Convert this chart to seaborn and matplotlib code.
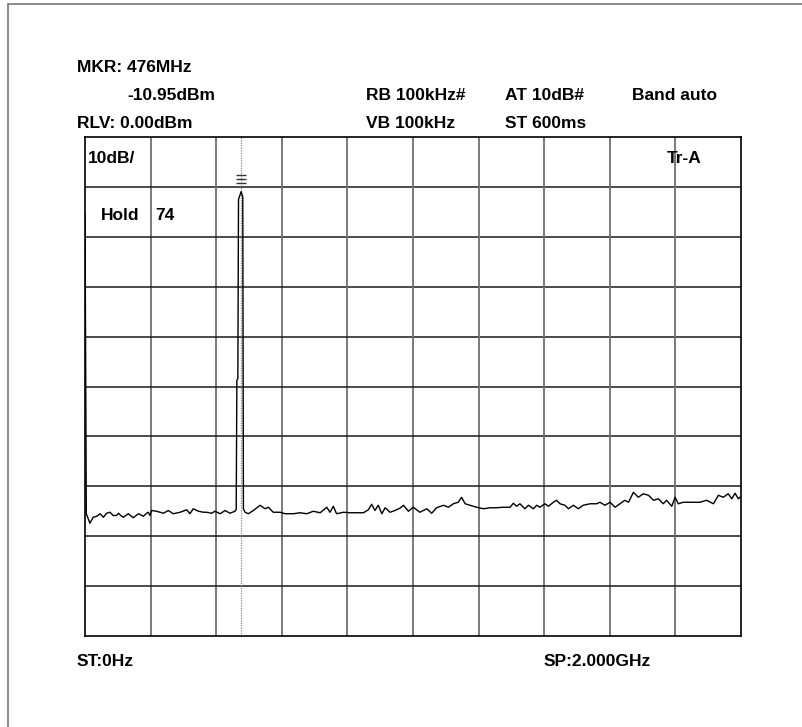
import matplotlib
matplotlib.use("Agg")
import matplotlib.pyplot as plt
import seaborn as sns
import pandas as pd
from matplotlib.lines import Line2D

# Sweep trace: frequency (MHz) and level (dBm)
freq_mhz = [0, 4, 15, 25, 36, 46, 56, 66, 76, 86, 96, 102, 110, 117, 132, 147, 163, 178, 188, 193,
            198, 203, 218, 239, 254, 269, 290, 310, 320, 330, 346, 361, 371, 386, 396, 412, 427, 442,
            457, 461, 463, 466, 468, 476, 481, 483, 488, 498, 513, 534, 549, 559, 574, 595, 610, 635,
            656, 676, 696, 717, 737, 747, 757, 767, 788, 808, 828, 849, 864, 874, 884, 894, 905, 915,
            930, 945, 960, 971, 986, 1001, 1021, 1042, 1057, 1072, 1093, 1108, 1123, 1138, 1148, 1159,
            1174, 1194, 1215, 1235, 1255, 1275, 1296, 1306, 1316, 1326, 1341, 1352, 1367, 1377, 1387,
            1402, 1413, 1428, 1438, 1448, 1463, 1474, 1489, 1504, 1519, 1540, 1560, 1570, 1585, 1601,
            1616, 1631, 1646, 1657, 1672, 1687, 1702, 1718, 1733, 1748, 1763, 1773, 1789, 1799, 1809,
            1824, 1840, 1855, 1875, 1895, 1916, 1931, 1946, 1961, 1972, 1982, 1992, 2000]
level_dbm = [-15.5, -75.5, -77.4, -76.2, -76.0, -75.5, -76.2, -75.4, -75.2, -75.85, -75.85, -75.4,
             -75.9, -76.2, -75.5, -76.3, -75.5, -76.0, -75.4, -75.2, -75.85, -74.85, -75.0, -75.4,
             -74.85, -75.5, -75.2, -74.7, -75.5, -74.5, -75.0, -75.2, -75.2, -75.4, -75.0, -75.5,
             -74.85, -75.4, -75.0, -74.6, -48.8, -48.4, -12.5, -10.95, -12.0, -74.5, -75.2, -75.5,
             -74.85, -73.8, -74.5, -74.2, -75.2, -75.2, -75.5, -75.5, -75.3, -75.5, -75.0, -75.3,
             -74.2, -75.2, -74.0, -75.5, -75.2, -75.3, -75.3, -75.3, -74.7, -73.6, -74.85, -73.8,
             -75.5, -74.3, -75.2, -74.85, -74.4, -73.8, -75.0, -74.2, -75.2, -74.5, -75.4, -74.3,
             -73.8, -74.2, -73.5, -73.2, -72.2, -73.5, -73.8, -74.2, -74.5, -74.3, -74.3, -74.2,
             -74.2, -73.4, -74.0, -73.5, -74.5, -73.8, -74.5, -73.8, -74.2, -73.5, -74.0, -73.2,
             -72.8, -73.5, -73.8, -74.5, -73.8, -74.5, -73.8, -73.5, -73.5, -73.2, -73.8, -73.2,
             -74.2, -73.5, -72.8, -73.2, -71.2, -72.2, -71.5, -71.8, -72.8, -72.5, -73.5, -72.8,
             -74.0, -72.2, -73.5, -73.2, -73.2, -73.2, -73.2, -72.8, -73.5, -71.8, -72.2, -71.5,
             -72.5, -71.4, -72.5, -72.0]

# Marker
marker_freq_mhz = 476
marker_level_dbm = -10.95
marker_glyph_dbm = [-7.6, -8.4, -9.2]

# Display settings
span_mhz = [0, 2000]
ref_level_dbm = 0
db_per_div = 10
n_div = 10

header_left = ["MKR: 476MHz", "-10.95dBm", "RLV: 0.00dBm"]
header_mid = ["RB 100kHz#", "VB 100kHz"]
header_right = ["AT 10dB#", "ST 600ms"]
band_label = "Band auto"
scale_label = "10dB/"
hold_label = ["Hold", "74"]
trace_label = "Tr-A"
start_label = "ST:0Hz"
stop_label = "SP:2.000GHz"

sns.set_style("white")
plt.rcParams["font.family"] = ["Liberation Sans", "DejaVu Sans"]

W, H = 803, 727
FS = 12.5
fig = plt.figure(figsize=(W / 100, H / 100), dpi=100)


def fx(x):
    return x / W


def fy(y):
    return 1 - y / H


ax = fig.add_axes([fx(85), fy(636), fx(741) - fx(85), fy(137) - fy(636)])

df = pd.DataFrame({"freq": freq_mhz, "level": level_dbm})
ax.set_xlim(*span_mhz)
ax.set_ylim(ref_level_dbm - n_div * db_per_div, ref_level_dbm)

# graticule
step_x = (span_mhz[1] - span_mhz[0]) / n_div
for i in range(1, n_div):
    ax.axvline(span_mhz[0] + i * step_x, color="#6f6f6f", lw=1.3, zorder=1)
    ax.axhline(ref_level_dbm - i * db_per_div, color="#1a1a1a", lw=1.1, zorder=1)

# marker line
ax.axvline(marker_freq_mhz, color="#8a8a8a", lw=0.9, ls=(0, (1, 1)), zorder=2)

sns.lineplot(data=df, x="freq", y="level", ax=ax, color="black", lw=1.0,
             estimator=None, sort=False, zorder=3)

# marker glyph above the peak
ax.plot([marker_freq_mhz] * len(marker_glyph_dbm), marker_glyph_dbm, ls="none",
        marker="_", ms=7, mew=1.0, color="#333333", zorder=4)

ax.set_xticks([])
ax.set_yticks([])
ax.set_xlabel("")
ax.set_ylabel("")
for s in ax.spines.values():
    s.set_color("black")
    s.set_linewidth(1.2)

# inner labels
kw = dict(fontsize=FS, fontweight="bold", va="center", ha="left", color="black")
ax.text(0.004, 0.956, scale_label, transform=ax.transAxes, **kw)
ax.text(0.024, 0.842, hold_label[0], transform=ax.transAxes, **kw)
ax.text(0.107, 0.842, hold_label[1], transform=ax.transAxes, **kw)
ax.text(0.887, 0.956, trace_label, transform=ax.transAxes, **kw)

# header / footer
fig.text(fx(77), fy(67), header_left[0], **kw)
fig.text(fx(127), fy(95), header_left[1], **kw)
fig.text(fx(77), fy(124), header_left[2], **kw)
fig.text(fx(366), fy(95), header_mid[0], **kw)
fig.text(fx(366), fy(124), header_mid[1], **kw)
fig.text(fx(505), fy(95), header_right[0], **kw)
fig.text(fx(505), fy(124), header_right[1], **kw)
fig.text(fx(632), fy(95), band_label, **kw)
fig.text(fx(77), fy(662), start_label, **kw)
fig.text(fx(544), fy(662), stop_label, **kw)

# outer frame
fig.add_artist(Line2D([fx(8), fx(8)], [fy(4), 0], color="#777777", lw=1.2))
fig.add_artist(Line2D([fx(8), 1], [fy(4), fy(4)], color="#777777", lw=1.2))

fig.savefig("out.png", dpi=100)
